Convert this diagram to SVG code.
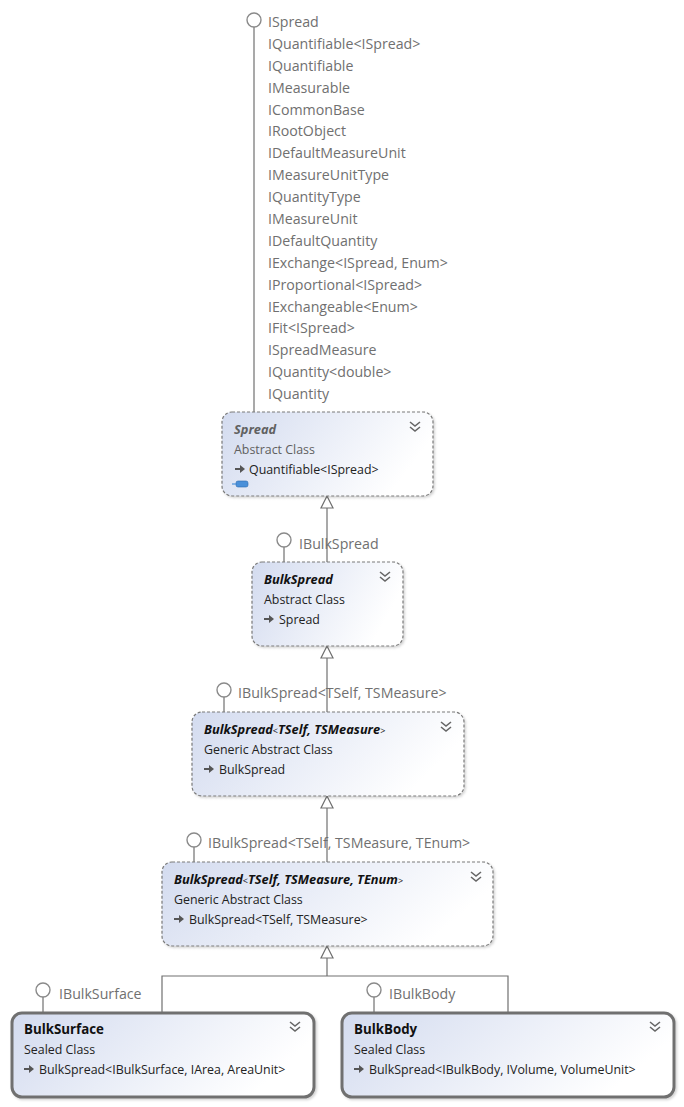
<svg xmlns="http://www.w3.org/2000/svg" width="684" height="1107" viewBox="0 0 684 1107">
<defs>
<linearGradient id="g" x1="0" y1="0" x2="1" y2="0.3">
<stop offset="0" stop-color="#d3dbef"/>
<stop offset="1" stop-color="#ffffff"/>
</linearGradient>
<filter id="sh" x="-5%" y="-5%" width="115%" height="120%">
<feDropShadow dx="1.5" dy="1.5" stdDeviation="1" flood-color="#000" flood-opacity="0.18"/>
</filter>
<symbol id="chev" viewBox="0 0 12 12" overflow="visible">
<polyline points="1,1 6,5 11,1" fill="none" stroke="#666" stroke-width="1.6"/>
<polyline points="1,6 6,10 11,6" fill="none" stroke="#666" stroke-width="1.6"/>
</symbol>
<symbol id="arr" viewBox="0 0 10 10" overflow="visible">
<path d="M0,4 H5 V1 L10,5 L5,9 V6 H0 Z" fill="#555"/>
</symbol>
</defs>
<style>
.box{fill:url(#g);stroke:#7a7a7a;stroke-width:1.2;stroke-dasharray:3,2;filter:url(#sh)}
.sealed{fill:url(#g);stroke:#707070;stroke-width:3;filter:url(#sh)}
.con{fill:none;stroke:#707070;stroke-width:1.2}
.tri{fill:#fff;stroke:#707070;stroke-width:1.2}
.lol{fill:#fff;stroke:#8a8a8a;stroke-width:1.4}
.if{font-family:"Open Sans","Noto Sans",sans-serif;font-size:14.2px;fill:#707070}
.t{font-family:"Open Sans","Noto Sans",sans-serif;font-size:12.8px;font-weight:bold;font-style:italic;fill:#111}
.ts{font-family:"Open Sans","Noto Sans",sans-serif;font-size:13.3px;font-weight:bold;fill:#111}
.s{font-family:"Open Sans","Noto Sans",sans-serif;font-size:12.4px;fill:#222}
.g{fill:#606060}
</style>
<g id="connectors">
<line class="con" x1="327" y1="508" x2="327" y2="562"/>
<polygon class="tri" points="327,496 321,508 333,508"/>
<line class="con" x1="327" y1="658" x2="327" y2="712"/>
<polygon class="tri" points="327,646 321,658 333,658"/>
<line class="con" x1="327" y1="808" x2="327" y2="862"/>
<polygon class="tri" points="327,796 321,808 333,808"/>
<polyline class="con" points="162,1012 162,976 508,976 508,1012"/>
<line class="con" x1="327" y1="958" x2="327" y2="976"/>
<polygon class="tri" points="327,946 321,958 333,958"/>
</g>
<g id="Spread">
<line class="con" x1="254" y1="27" x2="254" y2="412" stroke="#8a8a8a"/>
<circle class="lol" cx="254" cy="20" r="7"/>
<text class="if" x="268">
<tspan x="268" y="27">ISpread</tspan>
<tspan x="268" y="49">IQuantifiable&lt;ISpread&gt;</tspan>
<tspan x="268" y="71">IQuantifiable</tspan>
<tspan x="268" y="93">IMeasurable</tspan>
<tspan x="268" y="115">ICommonBase</tspan>
<tspan x="268" y="136">IRootObject</tspan>
<tspan x="268" y="158">IDefaultMeasureUnit</tspan>
<tspan x="268" y="180">IMeasureUnitType</tspan>
<tspan x="268" y="202">IQuantityType</tspan>
<tspan x="268" y="224">IMeasureUnit</tspan>
<tspan x="268" y="246">IDefaultQuantity</tspan>
<tspan x="268" y="268">IExchange&lt;ISpread, Enum&gt;</tspan>
<tspan x="268" y="290">IProportional&lt;ISpread&gt;</tspan>
<tspan x="268" y="312">IExchangeable&lt;Enum&gt;</tspan>
<tspan x="268" y="333">IFit&lt;ISpread&gt;</tspan>
<tspan x="268" y="355">ISpreadMeasure</tspan>
<tspan x="268" y="377">IQuantity&lt;double&gt;</tspan>
<tspan x="268" y="399">IQuantity</tspan>
</text>
<rect class="box" x="222" y="412" width="211" height="84" rx="10"/>
<text class="t g" x="234" y="434">Spread</text>
<text class="s g" x="234" y="454">Abstract Class</text>
<use href="#arr" x="235" y="464" width="10" height="10"/>
<text class="s" x="249" y="474">Quantifiable&lt;ISpread&gt;</text>
<rect x="236" y="481" width="12" height="6" rx="2" fill="#4a90d9" stroke="#2a6ab0" stroke-width="0.6"/>
<line x1="232" y1="484" x2="236" y2="484" stroke="#4a90d9" stroke-width="1.2"/>
<use href="#chev" x="409" y="421" width="12" height="12"/>
</g>
<g id="BulkSpread">
<line class="con" x1="284" y1="547" x2="284" y2="562"/>
<circle class="lol" cx="284" cy="540" r="7"/>
<text class="if" x="299" y="549">IBulkSpread</text>
<rect class="box" x="252" y="562" width="151" height="84" rx="10"/>
<text class="t" x="264" y="584">BulkSpread</text>
<text class="s" x="264" y="604">Abstract Class</text>
<use href="#arr" x="264" y="614" width="10" height="10"/>
<text class="s" x="279" y="624">Spread</text>
<use href="#chev" x="379" y="571" width="12" height="12"/>
</g>
<g id="BulkSpread2">
<line class="con" x1="224" y1="697" x2="224" y2="712"/>
<circle class="lol" cx="224" cy="690" r="7"/>
<text class="if" x="238" y="698">IBulkSpread&lt;TSelf, TSMeasure&gt;</text>
<rect class="box" x="192" y="712" width="272" height="84" rx="10"/>
<text class="t" x="204" y="734">BulkSpread<tspan font-size="9px" font-style="normal" font-weight="normal">&lt;</tspan>TSelf, TSMeasure<tspan font-size="9px" font-style="normal" font-weight="normal">&gt;</tspan></text>
<text class="s" x="204" y="754">Generic Abstract Class</text>
<use href="#arr" x="204" y="764" width="10" height="10"/>
<text class="s" x="219" y="774">BulkSpread</text>
<use href="#chev" x="440" y="721" width="12" height="12"/>
</g>
<g id="BulkSpread3">
<line class="con" x1="194" y1="847" x2="194" y2="862"/>
<circle class="lol" cx="194" cy="840" r="7"/>
<text class="if" x="208" y="848">IBulkSpread&lt;TSelf, TSMeasure, TEnum&gt;</text>
<rect class="box" x="162" y="862" width="331" height="84" rx="10"/>
<text class="t" x="174" y="884">BulkSpread<tspan font-size="9px" font-style="normal" font-weight="normal">&lt;</tspan>TSelf, TSMeasure, TEnum<tspan font-size="9px" font-style="normal" font-weight="normal">&gt;</tspan></text>
<text class="s" x="174" y="904">Generic Abstract Class</text>
<use href="#arr" x="174" y="914" width="10" height="10"/>
<text class="s" x="189" y="924">BulkSpread&lt;TSelf, TSMeasure&gt;</text>
<use href="#chev" x="470" y="871" width="12" height="12"/>
</g>
<g id="BulkSurface">
<line class="con" x1="43" y1="997" x2="43" y2="1012"/>
<circle class="lol" cx="43" cy="990" r="7"/>
<text class="if" x="59" y="999">IBulkSurface</text>
<rect class="sealed" x="12" y="1013" width="302" height="84" rx="10"/>
<text class="ts" x="24" y="1034">BulkSurface</text>
<text class="s" x="24" y="1054">Sealed Class</text>
<use href="#arr" x="24" y="1064" width="10" height="10"/>
<text class="s" x="39" y="1074">BulkSpread&lt;IBulkSurface, IArea, AreaUnit&gt;</text>
<use href="#chev" x="289" y="1021" width="12" height="12"/>
</g>
<g id="BulkBody">
<line class="con" x1="374" y1="997" x2="374" y2="1012"/>
<circle class="lol" cx="374" cy="990" r="7"/>
<text class="if" x="389" y="999">IBulkBody</text>
<rect class="sealed" x="342" y="1013" width="332" height="84" rx="10"/>
<text class="ts" x="354" y="1034">BulkBody</text>
<text class="s" x="354" y="1054">Sealed Class</text>
<use href="#arr" x="354" y="1064" width="10" height="10"/>
<text class="s" x="369" y="1074">BulkSpread&lt;IBulkBody, IVolume, VolumeUnit&gt;</text>
<use href="#chev" x="649" y="1021" width="12" height="12"/>
</g>
</svg>
